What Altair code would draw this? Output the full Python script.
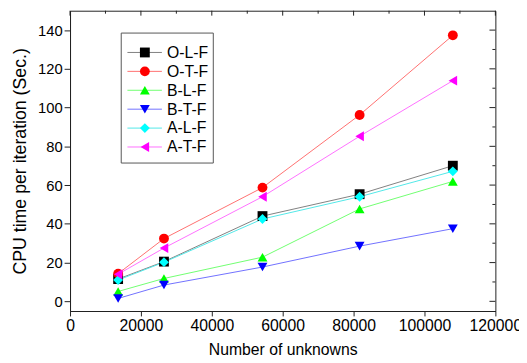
import altair as alt
import pandas as pd

# ---- data ----
unknowns = [13570, 26500, 54300, 81700, 108000]
series_names = ["O-L-F", "O-T-F", "B-L-F", "B-T-F", "A-L-F", "A-T-F"]
olf = [11.5, 20.5, 44.0, 55.3, 70.0]
otf = [14.3, 32.4, 58.7, 96.2, 137.3]
blf = [5.1, 11.8, 22.8, 47.7, 61.9]
btf = [1.5, 8.4, 17.7, 28.5, 37.5]
alf = [11.0, 20.2, 42.5, 54.0, 67.1]
atf = [14.0, 27.5, 54.0, 85.2, 113.9]

x_ticks = [0, 10000, 20000, 30000, 40000, 50000, 60000, 70000, 80000, 90000, 100000, 110000, 120000]
y_ticks = [0, 10, 20, 30, 40, 50, 60, 70, 80, 90, 100, 110, 120, 130, 140]

marker_colors = ["#000000", "#ff0000", "#00ff00", "#0000ff", "#00ffff", "#ff00ff"]
line_colors = ["#808080", "#ff7070", "#70ff70", "#7070ff", "#50e8e8", "#ff70ff"]
shapes = ["square", "circle", "triangle-up", "triangle-down", "diamond", "triangle-left"]

values = [olf, otf, blf, btf, alf, atf]
rows = []
for i, (name, vals) in enumerate(zip(series_names, values)):
    for x, v in zip(unknowns, vals):
        rows.append({"series": name, "order": i, "unknowns": x, "time": v})
df = pd.DataFrame(rows)

W, H = 432, 305
FONT = "Liberation Sans"
MSIZE = 100

xscale = alt.Scale(domain=[0, 120000], nice=False, zero=False)
yscale = alt.Scale(domain=[-5, 150], nice=False, zero=False)

xaxis = alt.Axis(
    values=x_ticks, format="d", title="Number of unknowns",
    labelExpr="datum.value % 20000 === 0 ? datum.label : ''",
    tickSize={"condition": {"test": "datum.value % 20000 === 0", "value": 5}, "value": 3},
    labelPadding=2, titlePadding=8, grid=False, labelOverlap=False, labelFlush=False,
    labelBound=False,
)
yaxis = alt.Axis(
    values=y_ticks, title="CPU time per iteration (Sec.)",
    labelExpr="datum.value % 20 === 0 ? datum.label : ''",
    tickSize={"condition": {"test": "datum.value % 20 === 0", "value": 6}, "value": 3},
    labelPadding=2, titlePadding=8, grid=False, labelOverlap=False, labelFlush=False,
)

base = alt.Chart(df)
lines = base.mark_line(strokeWidth=1).encode(
    x=alt.X("unknowns:Q", scale=xscale, axis=xaxis),
    y=alt.Y("time:Q", scale=yscale, axis=yaxis),
    stroke=alt.Stroke("series:N", scale=alt.Scale(domain=series_names, range=line_colors), legend=None),
    order="unknowns:Q",
)
points = base.mark_point(filled=True, opacity=1, size=MSIZE, strokeWidth=0).encode(
    x=alt.X("unknowns:Q", scale=xscale),
    y=alt.Y("time:Q", scale=yscale),
    fill=alt.Fill("series:N", scale=alt.Scale(domain=series_names, range=marker_colors), legend=None),
    shape=alt.Shape("series:N", scale=alt.Scale(domain=series_names, range=shapes), legend=None),
    order="order:Q",
)

# mirror ticks (inward) on top and right
top_major = alt.Chart(pd.DataFrame({"t": [t for t in x_ticks if t % 20000 == 0]})).mark_rule(color="#222", strokeWidth=1).encode(
    x=alt.X("t:Q", scale=xscale), y=alt.value(0), y2=alt.value(5))
top_minor = alt.Chart(pd.DataFrame({"t": [t for t in x_ticks if t % 20000 != 0]})).mark_rule(color="#222", strokeWidth=1).encode(
    x=alt.X("t:Q", scale=xscale), y=alt.value(0), y2=alt.value(3))
right_major = alt.Chart(pd.DataFrame({"t": [t for t in y_ticks if t % 20 == 0]})).mark_rule(color="#222", strokeWidth=1).encode(
    y=alt.Y("t:Q", scale=yscale), x=alt.value(W), x2=alt.value(W - 6))
right_minor = alt.Chart(pd.DataFrame({"t": [t for t in y_ticks if t % 20 != 0]})).mark_rule(color="#222", strokeWidth=1).encode(
    y=alt.Y("t:Q", scale=yscale), x=alt.value(W), x2=alt.value(W - 3))

# legend box
one = pd.DataFrame({"a": [0]})
legend_layers = [
    alt.Chart(one).mark_rect(fill="white", stroke="#555", strokeWidth=1).encode(
        x=alt.value(52), x2=alt.value(145.5), y=alt.value(22.7), y2=alt.value(154.7))
]
for i, name in enumerate(series_names):
    ly = 42.4 + i * 19.2
    d = pd.DataFrame({"series": [name]})
    legend_layers.append(alt.Chart(d).mark_rule(color=line_colors[i], strokeWidth=1).encode(
        x=alt.value(58.3), x2=alt.value(93.3), y=alt.value(ly)))
    legend_layers.append(alt.Chart(d).mark_point(filled=True, opacity=1, size=MSIZE, strokeWidth=0,
                                                 shape=shapes[i], color=marker_colors[i]).encode(
        x=alt.value(76), y=alt.value(ly)))
    legend_layers.append(alt.Chart(d).mark_text(align="left", baseline="middle", fontSize=16,
                                                font=FONT, color="#000").encode(
        x=alt.value(98.6), y=alt.value(ly + 0.5), text="series:N"))

chart = alt.layer(
    lines, points, top_major, top_minor, right_major, right_minor, *legend_layers
).properties(
    width=W, height=H,
    autosize=alt.AutoSizeParams(type="none"),
    padding={"left": 63, "top": 0, "right": 24, "bottom": 48},
).configure_view(
    stroke="#222", strokeWidth=1
).configure_axis(
    labelFont=FONT, titleFont=FONT, labelFontSize=15, titleFontSize=16,
    titleFontWeight="normal", labelColor="#000", titleColor="#000",
    domainColor="#222", tickColor="#222", domainWidth=1, tickWidth=1,
).configure_axisX(labelFontSize=16).configure_axisY(titleFontSize=18)

chart.save("out.html", embed_options={"renderer": "svg", "actions": False})
